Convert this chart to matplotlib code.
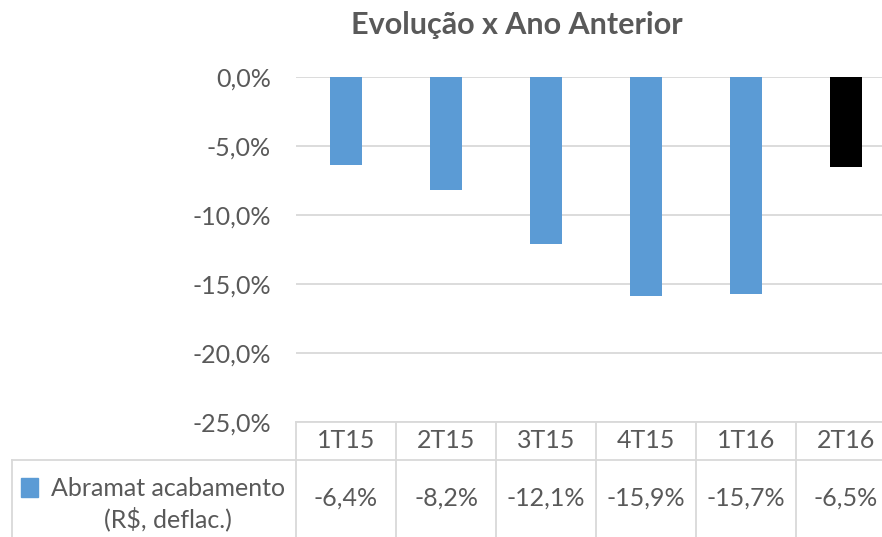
import matplotlib.pyplot as plt
from matplotlib.patches import Rectangle
from matplotlib.lines import Line2D

plt.rcParams['font.family'] = ['Lato', 'DejaVu Sans']

categories = ['1T15', '2T15', '3T15', '4T15', '1T16', '2T16']
values = [-6.4, -8.2, -12.1, -15.9, -15.7, -6.5]
bar_colors = ['#5b9bd5'] * 5 + ['#000000']
value_labels = ['-6,4%', '-8,2%', '-12,1%', '-15,9%', '-15,7%', '-6,5%']
yticks = [0, -5, -10, -15, -20, -25]
ytick_labels = ['0,0%', '-5,0%', '-10,0%', '-15,0%', '-20,0%', '-25,0%']
series_name = 'Abramat acabamento\n(R$, deflac.)'
title = 'Evolução x Ano Anterior'

W, H = 882, 537
txt = '#595959'
grid = '#d9d9d9'
fs = 18

fig = plt.figure(figsize=(W / 100, H / 100), dpi=100)

def fx(px):
    return px / W

def fy(py):
    return 1 - py / H

# main plot area: x 296..896 px, y 77..422 px
ax = fig.add_axes([fx(296), fy(422), fx(600), (422 - 77) / H])
x = range(len(categories))
ax.bar(x, values, width=0.32, color=bar_colors, zorder=3)
ax.set_xlim(-0.5, len(categories) - 0.5)
ax.set_ylim(-25, 0)
ax.set_yticks(yticks)
ax.set_yticklabels(ytick_labels, color=txt, fontsize=fs)
ax.tick_params(axis='y', length=0, pad=18)
ax.set_xticks([])
ax.grid(axis='y', color=grid, linewidth=1.3, zorder=0)
ax.set_axisbelow(True)
for s in ax.spines.values():
    s.set_visible(False)
ax.patch.set_alpha(0)

fig.text(fx(517), fy(25), title, ha='center', va='center',
         fontsize=22, fontweight='bold', color=txt)

# data table below the chart
line_kw = dict(color=grid, linewidth=1.3, transform=fig.transFigure)
fig.add_artist(Line2D([fx(296), 1.05], [fy(422), fy(422)], **line_kw))
fig.add_artist(Line2D([fx(12), 1.05], [fy(460), fy(460)], **line_kw))
fig.add_artist(Line2D([fx(12), fx(12)], [fy(460), 0], **line_kw))
col_w = 600 / len(categories)
for i in range(len(categories) + 1):
    xb = 296 + i * col_w
    fig.add_artist(Line2D([fx(xb), fx(xb)], [fy(422), 0], **line_kw))

for i, (cat, lab) in enumerate(zip(categories, value_labels)):
    xc = 296 + (i + 0.5) * col_w
    fig.text(fx(xc), fy(441), cat, ha='center', va='center',
             fontsize=fs, color=txt)
    fig.text(fx(xc), fy(498), lab, ha='center', va='center',
             fontsize=fs, color=txt)

fig.add_artist(Rectangle((fx(21), fy(497)), fx(17), 19 / H,
                         color='#5b9bd5', transform=fig.transFigure))
fig.text(fx(168), fy(504), series_name, ha='center', va='center',
         fontsize=fs, color=txt, linespacing=1.35)

fig.savefig('out.png', dpi=100)
